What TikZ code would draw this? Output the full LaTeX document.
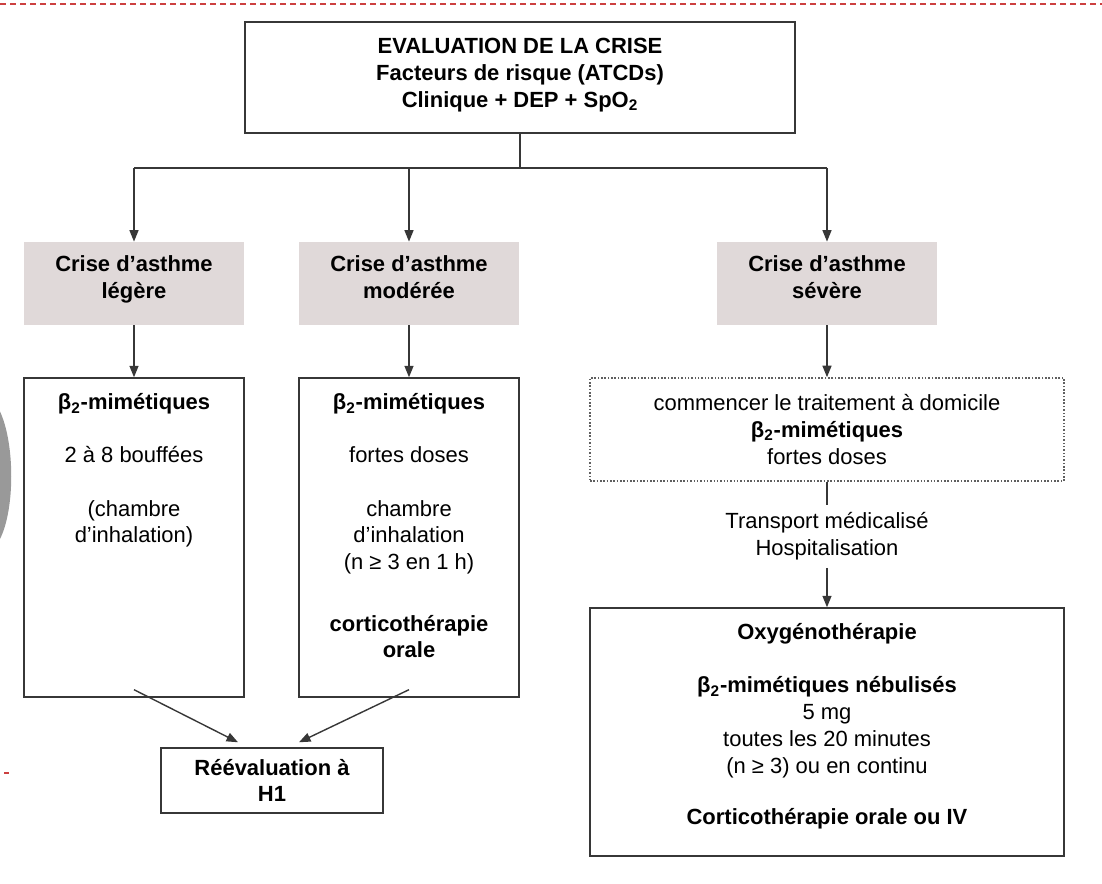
\documentclass[tikz,border=0pt]{standalone}
\usepackage{fontspec}
\setmainfont{Liberation Sans}
\usetikzlibrary{positioning}
\usetikzlibrary{arrows.meta}
\usetikzlibrary{calc}
\definecolor{hdrgray}{RGB}{224,217,217}
\definecolor{linegray}{RGB}{55,55,55}
\definecolor{pagered}{RGB}{204,64,64}
\tikzset{
    evalbox/.style = {rectangle, draw=linegray, line width=1.1pt, minimum width=11.0cm, minimum height=2.22cm, align=center, font=\bfseries},
    hdrbox/.style = {rectangle, fill=hdrgray, minimum width=4.4cm, minimum height=1.66cm, align=center, font=\bfseries},
    txtbox/.style = {rectangle, draw=linegray, line width=0.8pt, inner sep=0pt},
    dotbox/.style = {rectangle, draw=linegray!80, densely dotted, line width=0.9pt, minimum width=9.48cm, minimum height=2.06cm, align=center},
    reevbox/.style = {rectangle, draw=linegray, line width=0.8pt, minimum width=4.44cm, minimum height=1.30cm, align=center, font=\bfseries},
    txtnode/.style = {align=center},
    edgen/.style = {-{Triangle[length=2.3mm,width=1.8mm]},line width=0.8pt,linegray},
    linen/.style = {line width=0.8pt,linegray},
    edger/.style = {pagered,line width=0.6pt,dash pattern=on 1.2mm off 0.8mm}, % page rule
    every picture/.style={font issue=\fontsize{12.5}{15.2}},
    font issue/.style={execute at begin picture={#1\selectfont}
  }
}

\begin{document}
\begin{tikzpicture}[scale=1.00,transform shape]
%
\path[use as bounding box] (0,0) rectangle (22.04,17.68);
\draw[edger] (0,17.6) -- (22.04,17.6);
\draw[pagered,line width=0.6pt] (0.08,2.22) -- (0.18,2.22);
\fill[black!40] (0,9.45) .. controls (0.3,8.8) and (0.3,7.5) .. (0,6.9) -- cycle;
%
\node[evalbox] at (10.40,16.13) (eval) {EVALUATION DE LA CRISE\\Facteurs de risque (ATCDs)\\Clinique + DEP + SpO\textsubscript{2}\\[-10pt]};
\coordinate (j) at (10.40,14.32);
%
\node[hdrbox] at (2.68,12.01) (leg) {Crise d’asthme\\légère\strut\\[-8pt]};
\node[hdrbox] at (8.18,12.01) (mod) {Crise d’asthme\\modérée\strut\\[-8pt]};
\node[hdrbox] at (16.54,12.01) (sev) {Crise d’asthme\\sévère\strut\\[-8pt]};
\coordinate (jl) at (j -| leg);
\coordinate (jm) at (j -| mod);
\coordinate (js) at (j -| sev);
%
\node[txtbox] at (2.68,6.93) (tl) {\parbox[c][6.38cm][t]{4.4cm}{\centering\vspace*{7.5pt}\strut\textbf{β\textsubscript{2}-mimétiques}\\[15pt]
    2 à 8 bouffées\\[15pt]
    (chambre\\d’inhalation)}};
\node[txtbox] at (8.18,6.93) (tm) {\parbox[c][6.38cm][t]{4.4cm}{\centering\vspace*{7.5pt}\strut\textbf{β\textsubscript{2}-mimétiques}\\[15pt]
    fortes doses\\[15pt]
    chambre\\d’inhalation\\(n ≥ 3 en 1 h)\\[20pt]
    \textbf{corticothérapie}\\\textbf{orale}}};
\node[dotbox] at (16.54,9.09) (ts) {commencer le traitement à domicile\\\textbf{β\textsubscript{2}-mimétiques}\\fortes doses};
\node[txtnode] at (16.54,6.95) (trans) {Transport médicalisé\\Hospitalisation};
\node[txtbox] at (16.54,3.04) (tox) {\parbox[c][4.96cm][t]{9.48cm}{\centering\vspace*{7.5pt}\strut\textbf{Oxygénothérapie}\\[15pt]
    \textbf{β\textsubscript{2}-mimétiques nébulisés}\\5 mg\\toutes les 20 minutes\\(n ≥ 3) ou en continu\\[14pt]
    \textbf{Corticothérapie orale ou IV}}};
\node[reevbox] at (5.44,2.07) (reev) {Réévaluation à\\H1};
%
\draw[linen] (eval) -- (j);
\draw[linen] (jl) -- (js);
\draw[edgen] (jl) -- (leg);
\draw[edgen] (jm) -- (mod);
\draw[edgen] (js) -- (sev);
\draw[edgen] (leg) -- (tl);
\draw[edgen] (mod) -- (tm);
\draw[edgen] (sev) -- (ts);
\draw[linen] (ts) -- (trans);
\draw[edgen] (trans) -- (tox);
\draw[edgen] ($(tl.south)+(0,0.16)$) -- ($(reev.north)+(-0.68,0.1)$);
\draw[edgen] ($(tm.south)+(0,0.16)$) -- ($(reev.north)+(0.54,0.1)$);

\end{tikzpicture}
\end{document}
